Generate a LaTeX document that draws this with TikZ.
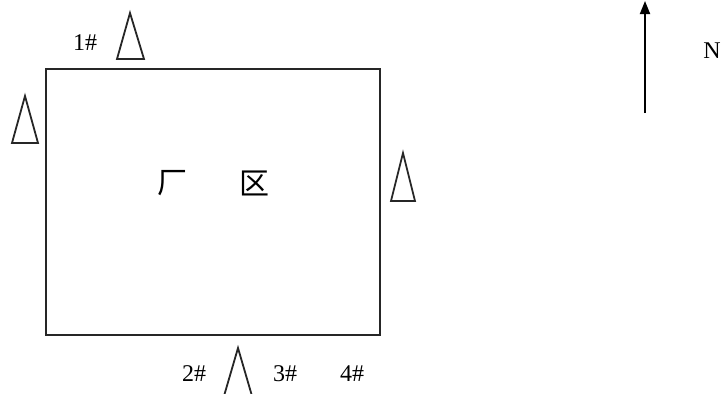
\documentclass[tikz,border=0pt]{standalone}
\usepackage{fontspec}
\setmainfont{Liberation Serif}
\newfontfamily\cjk{Noto Sans CJK SC}[Scale=1]
\usetikzlibrary{arrows.meta}
\begin{document}
\begin{tikzpicture}[x=1pt,y=-1pt,
  lbl/.style={font=\fontsize{24}{24}\selectfont, inner sep=0pt},
  cjklbl/.style={font=\cjk\fontsize{30}{30}\selectfont, inner sep=0pt},
  tri/.style={draw=black!85, line width=1.8pt, line join=miter},
  frame/.style={draw=black!85, line width=2pt}]
\useasboundingbox (0,0) rectangle (724,394);
\draw[frame] (46,69) rectangle (380,335);
% triangles
\draw[tri] (130,13) coordinate (t1) -- (144,59) -- (117,59) -- cycle;
\draw[tri] (25,96) coordinate (t0) -- (38,143) -- (12,143) -- cycle;
\draw[tri] (403,153) coordinate (t2) -- (415,201) -- (391,201) -- cycle;
\draw[tri] (238,348) coordinate (t3) -- (252,396) -- (224,396) -- cycle;
% labels
\node[lbl] (l1) at (85,43) {1\#};
\node[lbl] (l2) at (194,374) {2\#};
\node[lbl] (l3) at (285,374) {3\#};
\node[lbl] (l4) at (352,374) {4\#};
\node[lbl] (n) at (712,51) {N};
\node[cjklbl] (c1) at (172,183) {厂};
\node[cjklbl] (c2) at (254,183) {区};
% north arrow
\coordinate (a0) at (645,113);
\coordinate (a1) at (645,1);
\draw[line width=1.8pt, -{Triangle[width=10pt,length=13pt]}] (a0) -- (a1);
\end{tikzpicture}
\end{document}
